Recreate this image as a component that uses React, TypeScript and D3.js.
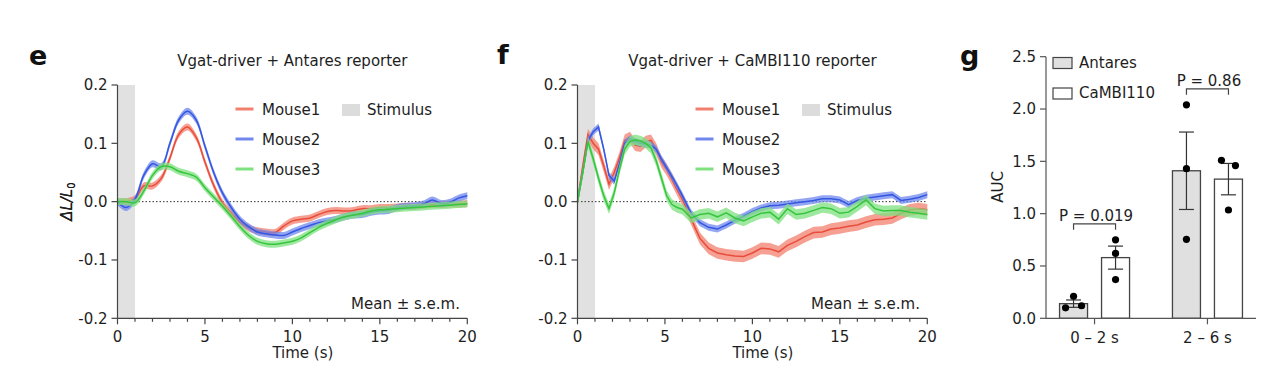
import React from "react";
import * as d3 from "d3";

// ---------------- DATA ----------------
const timeE = [0,0.5,1,1.5,2,2.5,3,3.5,4,4.5,5,5.5,6,6.5,7,7.5,8,8.5,9,9.5,10,10.5,11,11.5,12,12.5,13,13.5,14,14.5,15,15.5,16,16.5,17,17.5,18,18.5,19,19.5,20];
const eMouse1 = [0,0,0.005,0.027,0.027,0.04,0.075,0.115,0.128,0.11,0.068,0.028,-0.002,-0.02,-0.035,-0.045,-0.05,-0.052,-0.053,-0.042,-0.033,-0.03,-0.028,-0.022,-0.017,-0.015,-0.016,-0.015,-0.012,-0.012,-0.01,-0.01,-0.009,-0.008,-0.008,-0.006,-0.005,-0.005,-0.004,-0.004,-0.003];
const eMouse2 = [0,-0.01,0.004,0.045,0.065,0.06,0.1,0.14,0.155,0.14,0.095,0.05,0.015,-0.01,-0.03,-0.043,-0.052,-0.055,-0.057,-0.058,-0.052,-0.046,-0.041,-0.036,-0.033,-0.03,-0.026,-0.023,-0.022,-0.018,-0.016,-0.015,-0.01,-0.008,-0.007,-0.004,0.003,-0.003,-0.001,0.006,0.01];
const eMouse3 = [0,0,-0.002,0.018,0.045,0.06,0.06,0.052,0.048,0.042,0.024,0.008,-0.008,-0.025,-0.043,-0.058,-0.068,-0.072,-0.073,-0.071,-0.068,-0.062,-0.053,-0.044,-0.037,-0.031,-0.026,-0.023,-0.02,-0.016,-0.014,-0.013,-0.012,-0.011,-0.01,-0.009,-0.008,-0.007,-0.006,-0.005,-0.004];
const eSem = [0.006, 0.006, 0.006];

const timeF = [0,0.3,0.6,0.9,1.2,1.5,1.8,2.1,2.4,2.7,3.0,3.3,3.6,3.9,4.2,4.5,4.8,5.1,5.4,5.7,6.0,6.5,7,7.5,8,8.5,9,9.5,10,10.5,11,11.5,12,12.5,13,13.5,14,14.5,15,15.5,16,16.5,17,17.5,18,18.5,19,19.5,20];
const fMouse1 = [0,0.06,0.115,0.1,0.09,0.061,0.03,0.05,0.075,0.105,0.11,0.097,0.095,0.103,0.105,0.09,0.068,0.055,0.038,0.02,0.004,-0.03,-0.063,-0.08,-0.088,-0.091,-0.093,-0.094,-0.088,-0.08,-0.081,-0.086,-0.075,-0.068,-0.06,-0.053,-0.052,-0.047,-0.045,-0.042,-0.04,-0.035,-0.031,-0.03,-0.028,-0.02,-0.014,-0.012,-0.014];
const fMouse2 = [0,0.05,0.105,0.12,0.128,0.09,0.045,0.035,0.065,0.1,0.108,0.103,0.1,0.099,0.097,0.09,0.073,0.058,0.043,0.027,0.01,-0.02,-0.036,-0.044,-0.047,-0.04,-0.032,-0.025,-0.017,-0.011,-0.007,-0.006,-0.004,-0.002,0,0.002,0.005,0.005,0.003,-0.005,0.002,0.006,0.008,0.01,0.012,0.002,0.004,0.007,0.012];
const fMouse3 = [0,0.05,0.103,0.073,0.04,0.01,-0.012,0.015,0.055,0.09,0.103,0.106,0.104,0.1,0.092,0.07,0.04,0.01,-0.005,-0.01,-0.013,-0.028,-0.022,-0.02,-0.026,-0.019,-0.028,-0.033,-0.026,-0.02,-0.018,-0.03,-0.012,-0.022,-0.02,-0.015,-0.01,-0.012,-0.02,-0.018,-0.008,0.003,-0.012,-0.016,-0.015,-0.015,-0.018,-0.02,-0.022];
const fSem = [0.01, 0.006, 0.009];

const mouseNames = ["Mouse1", "Mouse2", "Mouse3"];
const yTicksTrace = [-0.2, -0.1, 0.0, 0.1, 0.2];
const xTicksTrace = [0, 5, 10, 15, 20];

const aucGroups = ["0 – 2 s", "2 – 6 s"];
const reporters = ["Antares", "CaMBI110"];
const aucMeans = [[0.14, 0.58], [1.41, 1.33]];
const aucSems = [[0.035, 0.11], [0.37, 0.15]];
const aucPoints = [
  [[0.10, 0.21, 0.12], [0.75, 0.62, 0.37]],
  [[2.04, 1.43, 0.755], [1.51, 1.46, 1.035]],
];
const pLabels = ["P = 0.019", "P = 0.86"];
const aucTicks = [0, 0.5, 1.0, 1.5, 2.0, 2.5];

// ---------------- STYLE / LAYOUT ----------------
const FONT = "'DejaVu Sans', Verdana, sans-serif";
const TXT = "#1e1e1e";
const AX = "#444";
const lineColors = ["#e94c3a", "#3457e2", "#35c63e"];
const bandColors = ["#f2806f", "#7088ee", "#7fe07f"];
const yTop = 85, yBot = 318.3;

type TraceProps = {
  xr: [number, number];
  letter: string;
  letterX: number;
  letterY: number;
  title: string;
  time: number[];
  values: number[][];
  sems: number[];
  curve: any;
};

function TracePanel({ xr, letter, letterX, letterY, title, time, values, sems, curve }: TraceProps) {
  const x = d3.scaleLinear().domain([0, 20]).range(xr);
  const y = d3.scaleLinear().domain([-0.2, 0.2]).range([yBot, yTop]);
  const L = xr[0];
  const minor = d3.range(0, 21, 1);
  const legendY = [109, 139, 169];

  return (
    <g fontFamily={FONT} fill={TXT}>
      <text x={letterX} y={letterY} fontSize={27} fontWeight="bold" fill="#111">{letter}</text>
      <text x={(xr[0] + xr[1]) / 2} y={66} fontSize={15} textAnchor="middle">{title}</text>
      <rect x={x(0)} y={yTop} width={x(1) - x(0)} height={yBot - yTop} fill="#e1e1e1" />
      <line x1={x(0)} x2={x(20)} y1={y(0)} y2={y(0)} stroke="#333" strokeWidth={1} strokeDasharray="1.5,2" />
      {values.map((vals, si) => {
        const n = Math.min(vals.length, time.length);
        const pts = d3.range(n).map((i) => ({ t: time[i], v: vals[i] }));
        const s = sems[si];
        const area = d3.area<any>().x((d) => x(d.t)).y0((d) => y(d.v - s)).y1((d) => y(d.v + s)).curve(curve);
        const line = d3.line<any>().x((d) => x(d.t)).y((d) => y(d.v)).curve(curve);
        return (
          <g key={si}>
            <path d={area(pts) || ""} fill={bandColors[si]} fillOpacity={0.75} stroke="none" />
            <path d={line(pts) || ""} fill="none" stroke={lineColors[si]} strokeWidth={1.5} />
          </g>
        );
      })}
      {/* axes */}
      <line x1={x(0)} x2={x(0)} y1={yTop} y2={yBot} stroke={AX} strokeWidth={1.2} />
      <line x1={x(0)} x2={x(20)} y1={yBot} y2={yBot} stroke={AX} strokeWidth={1.2} />
      {yTicksTrace.map((t) => (
        <g key={"y" + t}>
          <line x1={x(0) - 6} x2={x(0)} y1={y(t)} y2={y(t)} stroke={AX} strokeWidth={1.2} />
          <text x={x(0) - 10} y={y(t)} dy="0.36em" fontSize={15} textAnchor="end">{d3.format(".1f")(t).replace("−", "-")}</text>
        </g>
      ))}
      {minor.map((t) => (
        <line key={"m" + t} x1={x(t)} x2={x(t)} y1={yBot} y2={yBot + (t % 5 === 0 ? 6 : 3.5)} stroke={AX} strokeWidth={1.2} />
      ))}
      {xTicksTrace.map((t) => (
        <text key={"x" + t} x={x(t)} y={yBot + 23.5} fontSize={15} textAnchor="middle">{t}</text>
      ))}
      <text x={(xr[0] + xr[1]) / 2 + 10.5} y={357.5} fontSize={15} textAnchor="middle">Time (s)</text>
      <text transform={`translate(72,${(yTop + yBot) / 2}) rotate(-90)`} fontSize={15} textAnchor="middle">
        <tspan fontStyle="italic">ΔL/L</tspan>
        <tspan fontSize={10} dy={3}>0</tspan>
      </text>
      {/* legend */}
      {mouseNames.map((m, i) => (
        <g key={m}>
          <line x1={L + 118} x2={L + 136} y1={legendY[i]} y2={legendY[i]} stroke={bandColors[i]} strokeWidth={3} />
          <text x={L + 144.5} y={legendY[i] + 5.5} fontSize={15}>{m}</text>
        </g>
      ))}
      <rect x={L + 224.5} y={104} width={18} height={12} fill="#dcdcdc" />
      <text x={L + 249.5} y={114.5} fontSize={15}>Stimulus</text>
      <text x={L + 342.5} y={309} fontSize={15} textAnchor="end">Mean ± s.e.m.</text>
    </g>
  );
}

function AucPanel() {
  const axisX = 1046, axisEnd = 1256;
  const y = d3.scaleLinear().domain([0, 2.5]).range([yBot, 56.7]);
  const gx = d3.scalePoint<string>().domain(aucGroups).range([axisX, axisEnd]).padding(0.43);
  const bx = d3.scaleBand<string>().domain(reporters).range([-35, 35]).paddingInner(1 / 3);
  const fills = ["#e0e0e0", "#ffffff"];
  const dotR = 3.6;

  // simple spread for overlapping dots
  const spread = (vals: number[]) => {
    const ys = vals.map((v) => y(v));
    const order = d3.range(vals.length).sort((a, b) => ys[a] - ys[b]);
    const clusters: number[][] = [];
    order.forEach((i) => {
      const last = clusters[clusters.length - 1];
      if (last && Math.abs(ys[i] - ys[last[last.length - 1]]) < 12) last.push(i);
      else clusters.push([i]);
    });
    const off = new Array(vals.length).fill(0);
    clusters.forEach((c) => {
      const sorted = [...c].sort((a, b) => a - b);
      const sp = c.length === 2 ? 14 : 8;
      sorted.forEach((idx, k) => (off[idx] = (k - (c.length - 1) / 2) * sp));
    });
    return off;
  };

  return (
    <g fontFamily={FONT} fill={TXT}>
      <text x={960} y={65} fontSize={27} fontWeight="bold" fill="#111">g</text>
      {aucGroups.map((g, gi) => (
        <g key={g}>
          {reporters.map((r, ri) => {
            const cx = (gx(g) as number) + (bx(r) as number) + bx.bandwidth() / 2;
            const m = aucMeans[gi][ri];
            const s = aucSems[gi][ri];
            const pts = aucPoints[gi][ri];
            const offs = spread(pts);
            return (
              <g key={r}>
                <rect x={cx - bx.bandwidth() / 2} y={y(m)} width={bx.bandwidth()} height={yBot - y(m)} fill={fills[ri]} stroke="#444" strokeWidth={1.3} />
                <line x1={cx} x2={cx} y1={y(m + s)} y2={y(Math.max(0, m - s))} stroke="#333" strokeWidth={1.2} />
                <line x1={cx - 7.5} x2={cx + 7.5} y1={y(m + s)} y2={y(m + s)} stroke="#333" strokeWidth={1.2} />
                <line x1={cx - 7.5} x2={cx + 7.5} y1={y(m - s)} y2={y(m - s)} stroke="#333" strokeWidth={1.2} />
                {pts.map((v, k) => (
                  <circle key={k} cx={cx + offs[k]} cy={y(v)} r={dotR} fill="#000" />
                ))}
              </g>
            );
          })}
          {(() => {
            const c0 = (gx(g) as number) + (bx(reporters[0]) as number) + bx.bandwidth() / 2;
            const c1 = (gx(g) as number) + (bx(reporters[1]) as number) + bx.bandwidth() / 2;
            const top = Math.max(...aucPoints[gi].flat(), ...aucMeans[gi].map((m, i) => m + aucSems[gi][i]));
            const by = y(top) - 16;
            return (
              <g>
                <path d={`M${c0},${by + 6}V${by}H${c1}V${by + 6}`} fill="none" stroke="#444" strokeWidth={1.2} />
                <text x={(c0 + c1) / 2 + 1.5} y={by - 3} fontSize={15} textAnchor="middle">{pLabels[gi]}</text>
              </g>
            );
          })()}
        </g>
      ))}
      {/* axes */}
      <line x1={axisX} x2={axisX} y1={56.7} y2={yBot} stroke="#555" strokeWidth={1.2} />
      <line x1={axisX} x2={axisEnd} y1={yBot} y2={yBot} stroke="#555" strokeWidth={1.2} />
      {aucTicks.map((t) => (
        <g key={t}>
          <line x1={axisX - 6} x2={axisX} y1={y(t)} y2={y(t)} stroke="#555" strokeWidth={1.2} />
          <text x={axisX - 10} y={y(t)} dy="0.36em" fontSize={15} textAnchor="end">{d3.format(".1f")(t)}</text>
        </g>
      ))}
      {aucGroups.map((g) => (
        <g key={g}>
          <line x1={gx(g)} x2={gx(g)} y1={yBot} y2={yBot + 6} stroke="#555" strokeWidth={1.2} />
          <text x={gx(g)} y={yBot + 24.5} fontSize={15} textAnchor="middle">{g}</text>
        </g>
      ))}
      <text transform={`translate(1003,187) rotate(-90)`} fontSize={15} textAnchor="middle">AUC</text>
      {/* legend */}
      {reporters.map((r, i) => (
        <g key={r}>
          <rect x={1053} y={57.5 + i * 30.5} width={19} height={11} fill={fills[i]} stroke="#444" strokeWidth={1.2} />
          <text x={1079} y={67.5 + i * 30.5} fontSize={15}>{r}</text>
        </g>
      ))}
    </g>
  );
}

export default function App() {
  return (
    <svg width={1288} height={376} style={{ position: "absolute", left: 0, top: 0, background: "#fff" }}>
      <rect width={1288} height={376} fill="#fff" />
      <TracePanel
        xr={[117.5, 467.3]}
        letter="e"
        letterX={29}
        letterY={65}
        title="Vgat-driver + Antares reporter"
        time={timeE}
        values={[eMouse1, eMouse2, eMouse3]}
        sems={eSem}
        curve={d3.curveCatmullRom}
      />
      <TracePanel
        xr={[577.5, 927.3]}
        letter="f"
        letterX={497}
        letterY={64}
        title="Vgat-driver + CaMBI110 reporter"
        time={timeF}
        values={[fMouse1, fMouse2, fMouse3]}
        sems={fSem}
        curve={d3.curveLinear}
      />
      <AucPanel />
    </svg>
  );
}
